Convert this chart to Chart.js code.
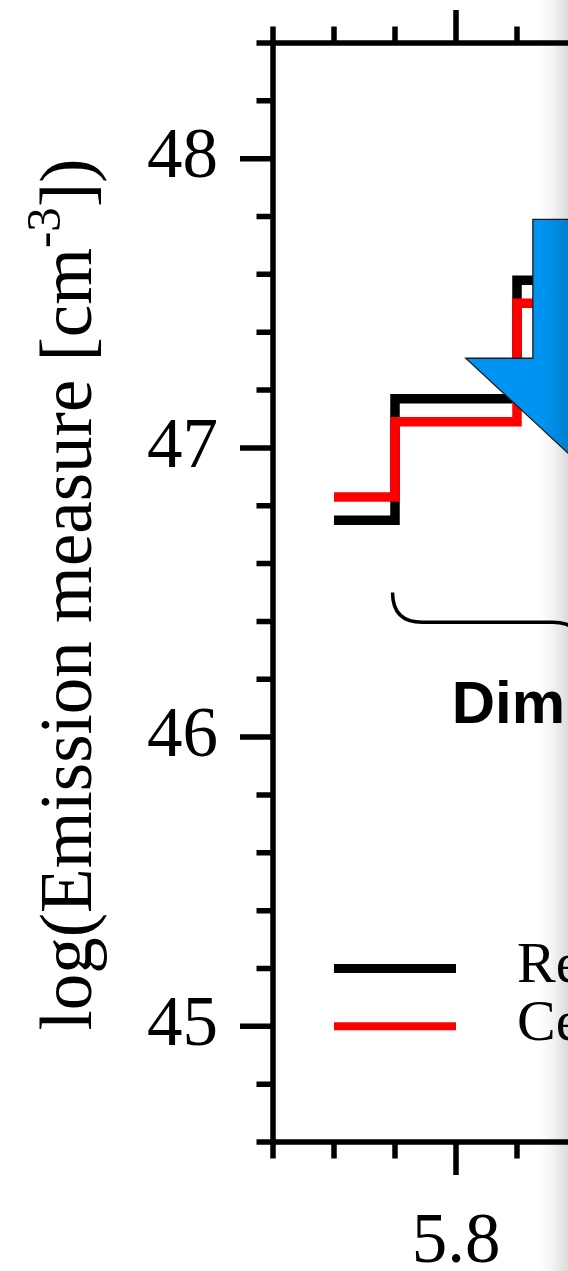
<!DOCTYPE html>
<html>
<head>
<meta charset="utf-8">
<script src="https://cdn.jsdelivr.net/npm/chart.js@4/dist/chart.umd.min.js"></script>
<style>
  html, body { margin: 0; padding: 0; background: #fff; overflow: hidden; width: 568px; height: 1271px; }
  #wrap { position: relative; width: 700px; height: 1271px; }
  #shade { position: absolute; top: 0; left: 540px; width: 28px; height: 1271px;
           background: linear-gradient(to right, rgba(0,0,0,0), rgba(0,0,0,0.04) 40%, rgba(0,0,0,0.14)); }
</style>
</head>
<body>
<div id="wrap"><canvas id="c" width="700" height="1271"></canvas></div>
<div id="shade"></div>
<script>
// Temperature bins (log T) and emission measure per bin
const logT = [5.70, 5.80, 5.90];
const emReference = [46.75, 47.17, 47.58];
const emCenter = [46.83, 47.09, 47.50];
const seriesNames = ['Reference', 'Center'];
const seriesColors = ['#000000', '#ff0000'];

// Axis ticks
const xTickLabels = [5.8];
const yTickLabels = [45, 46, 47, 48];
const xMinorStep = 0.05;
const yMinorStep = 0.2;

const X_MIN = 5.65, X_MAX = 5.95;
const Y_MIN = 44.6, Y_MAX = 48.4;

const SERIF = "'Liberation Serif', 'Times New Roman', serif";
const SANS = "'Liberation Sans', Arial, sans-serif";

// Annotations, in data units
const arrow = { x: 5.90, shaftHalf: 0.037, headHalf: 0.092, top: 47.79, headBase: 47.31, tip: 46.95 };
const brace = { left: 5.748, right: 6.06, endY: 46.50, barY: 46.397, tipY: 46.293 };
const phaseLabel = { text: 'Dimming', x: 5.7965, y: 46.05 };
const legendRows = [45.2, 45.0];

function pts(xs, ys) { return xs.map((x, i) => ({ x: x, y: ys[i] })); }

const frame = {
  id: 'frame',
  afterDatasetsDraw(chart) {
    const ctx = chart.ctx;
    const xs = chart.scales.x, ys = chart.scales.y;
    const area = chart.chartArea;
    const px = v => xs.getPixelForValue(v);
    const py = v => ys.getPixelForValue(v);

    // blue arrow
    ctx.save();
    ctx.beginPath();
    ctx.moveTo(px(arrow.x - arrow.shaftHalf), py(arrow.top));
    ctx.lineTo(px(arrow.x + arrow.shaftHalf), py(arrow.top));
    ctx.lineTo(px(arrow.x + arrow.shaftHalf), py(arrow.headBase));
    ctx.lineTo(px(arrow.x + arrow.headHalf), py(arrow.headBase));
    ctx.lineTo(px(arrow.x), py(arrow.tip));
    ctx.lineTo(px(arrow.x - arrow.headHalf), py(arrow.headBase));
    ctx.lineTo(px(arrow.x - arrow.shaftHalf), py(arrow.headBase));
    ctx.closePath();
    ctx.fillStyle = '#0094f2';
    ctx.fill();
    ctx.lineWidth = 1.3;
    ctx.strokeStyle = '#1a1a1a';
    ctx.stroke();
    ctx.restore();

    // curly brace under the rising part
    const bl = px(brace.left), br = px(brace.right), bc = (bl + br) / 2;
    const yEnd = py(brace.endY), yBar = py(brace.barY), yTip = py(brace.tipY);
    const r = yBar - yEnd;
    ctx.save();
    ctx.beginPath();
    ctx.moveTo(bl, yEnd);
    ctx.quadraticCurveTo(bl, yBar, bl + r, yBar);
    ctx.lineTo(bc - (yTip - yBar), yBar);
    ctx.quadraticCurveTo(bc, yBar, bc, yTip);
    ctx.quadraticCurveTo(bc, yBar, bc + (yTip - yBar), yBar);
    ctx.lineTo(br - r, yBar);
    ctx.quadraticCurveTo(br, yBar, br, yEnd);
    ctx.lineWidth = 3.5;
    ctx.strokeStyle = '#000';
    ctx.stroke();
    ctx.restore();

    // phase label
    ctx.save();
    ctx.font = 'bold 60px ' + SANS;
    ctx.fillStyle = '#000';
    ctx.textBaseline = 'alphabetic';
    ctx.fillText(phaseLabel.text, px(phaseLabel.x), py(phaseLabel.y));
    ctx.restore();

    // legend
    ctx.save();
    ctx.font = '58px ' + SERIF;
    ctx.textBaseline = 'alphabetic';
    legendRows.forEach((yv, i) => {
      const y = py(yv);
      ctx.beginPath();
      ctx.moveTo(px(5.70), y);
      ctx.lineTo(px(5.80), y);
      ctx.lineWidth = i === 0 ? 9 : 8;
      ctx.strokeStyle = seriesColors[i];
      ctx.stroke();
      ctx.fillStyle = '#000';
      ctx.fillText(seriesNames[i], px(5.85), y + 14);
    });
    ctx.restore();

    // box and tick marks
    ctx.save();
    ctx.strokeStyle = '#000';
    ctx.lineWidth = 5.5;
    ctx.lineCap = 'butt';
    ctx.beginPath();
    ctx.moveTo(area.left, area.bottom + 2.75);
    ctx.lineTo(area.left, area.top - 2.75);
    ctx.moveTo(area.left - 2.75, area.top);
    ctx.lineTo(area.right + 2.75, area.top);
    ctx.moveTo(area.left - 2.75, area.bottom);
    ctx.lineTo(area.right + 2.75, area.bottom);
    ctx.moveTo(area.right, area.top);
    ctx.lineTo(area.right, area.bottom);
    ctx.stroke();

    const MAJOR = 33, MINOR = 16.5;
    ctx.beginPath();
    const nx = Math.round((X_MAX - X_MIN) / xMinorStep);
    for (let i = 0; i <= nx; i++) {
      const v = X_MIN + i * xMinorStep;
      const major = xTickLabels.some(t => Math.abs(t - v) < 1e-6);
      const len = major ? MAJOR : MINOR;
      const x = px(v);
      ctx.moveTo(x, area.bottom); ctx.lineTo(x, area.bottom + len);
      ctx.moveTo(x, area.top); ctx.lineTo(x, area.top - len);
    }
    const ny = Math.round((Y_MAX - Y_MIN) / yMinorStep);
    for (let i = 0; i <= ny; i++) {
      const v = Y_MIN + i * yMinorStep;
      const major = yTickLabels.some(t => Math.abs(t - v) < 1e-6);
      const len = major ? MAJOR : MINOR;
      const y = py(v);
      ctx.moveTo(area.left, y); ctx.lineTo(area.left - len, y);
      ctx.moveTo(area.right, y); ctx.lineTo(area.right + len, y);
    }
    ctx.stroke();
    ctx.restore();

    // y-axis title with superscript
    ctx.save();
    const main = 'log(Emission measure [cm';
    const sup = '-3';
    const tail = '])';
    const fMain = '73px ' + SERIF, fSup = '49px ' + SERIF;
    ctx.font = fMain;
    const wMain = ctx.measureText(main).width, wTail = ctx.measureText(tail).width;
    ctx.font = fSup;
    const wSup = ctx.measureText(sup).width;
    const total = wMain + wSup + wTail;
    const cy = (area.top + area.bottom) / 2 + 2;
    ctx.translate(91, cy);
    ctx.rotate(-Math.PI / 2);
    ctx.fillStyle = '#000';
    ctx.textBaseline = 'alphabetic';
    let x0 = -total / 2;
    ctx.font = fMain; ctx.fillText(main, x0, 0); x0 += wMain;
    ctx.font = fSup; ctx.fillText(sup, x0, -31); x0 += wSup;
    ctx.font = fMain; ctx.fillText(tail, x0, 0);
    ctx.restore();
  }
};

new Chart(document.getElementById('c'), {
  type: 'line',
  data: {
    datasets: [
      { label: seriesNames[0], data: pts(logT, emReference), borderColor: seriesColors[0], order: 2 },
      { label: seriesNames[1], data: pts(logT, emCenter), borderColor: seriesColors[1], order: 1 }
    ]
  },
  options: {
    responsive: false,
    animation: false,
    devicePixelRatio: 1,
    layout: { padding: { left: 0, top: 43, right: 61, bottom: 0 } },
    elements: {
      line: { stepped: 'middle', borderWidth: 9.5, fill: false, tension: 0,
              borderJoinStyle: 'miter', borderCapStyle: 'butt' },
      point: { radius: 0, hoverRadius: 0 }
    },
    plugins: { legend: { display: false }, tooltip: { enabled: false } },
    scales: {
      x: {
        type: 'linear', min: X_MIN, max: X_MAX,
        grid: { display: false, drawTicks: false },
        border: { display: false },
        afterBuildTicks: s => { s.ticks = xTickLabels.map(v => ({ value: v })); },
        afterFit: s => { s.height = 129; s.paddingLeft = 0; s.paddingRight = 0; },
        ticks: { font: { family: SERIF, size: 71 }, color: '#000', padding: 59, maxRotation: 0,
                 callback: v => v.toFixed(1) }
      },
      y: {
        type: 'linear', min: Y_MIN, max: Y_MAX,
        grid: { display: false, drawTicks: false },
        border: { display: false },
        afterBuildTicks: s => { s.ticks = yTickLabels.map(v => ({ value: v })); },
        afterFit: s => { s.width = 273; s.paddingTop = 0; s.paddingBottom = 0; },
        ticks: { font: { family: SERIF, size: 71 }, color: '#000', padding: 55,
                 callback: v => String(v) }
      }
    }
  },
  plugins: [frame]
});
</script>
</body>
</html>
